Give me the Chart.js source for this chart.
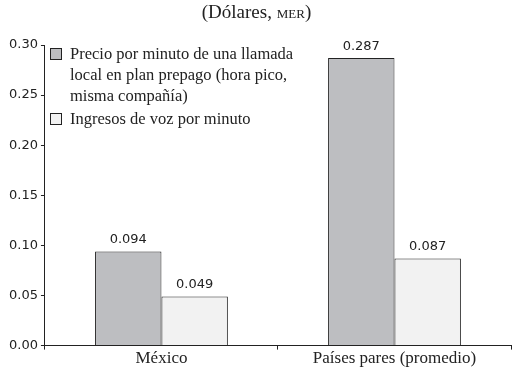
<!DOCTYPE html>
<html>
<head>
<meta charset="utf-8">
<script src="https://cdn.jsdelivr.net/npm/chart.js@4/dist/chart.umd.min.js"></script>
<style>
  html, body { margin: 0; padding: 0; background: #fff; }
  #wrap { position: relative; width: 513px; height: 368px; }
  #title { position: absolute; top: 0; left: 0; width: 513px; text-align: center;
           font-family: "Liberation Serif", serif; font-size: 19px; color: #222; line-height: 24px; }
  #title span { font-variant: small-caps; }
  #legend { position: absolute; left: 50px; top: 43px; font-family: "Liberation Serif", serif;
            font-size: 16.5px; color: #222; line-height: 21px; }
  .item { position: relative; padding-left: 20px; margin-bottom: 2px; }
  .box { position: absolute; left: 0; top: 5px; width: 10px; height: 10px; border: 1px solid #222; }
</style>
</head>
<body>
<div id="wrap">
  <canvas id="chart" width="513" height="368"></canvas>
  <div id="title">(Dólares, <span>mer</span>)</div>
  <div id="legend"></div>
</div>
<script>
var categories = ['México', 'Países pares (promedio)'];
var seriesNames = [
    'Precio por minuto de una llamada local en plan prepago (hora pico, misma compañía)',
    'Ingresos de voz por minuto'
];
var legendLines = [
    ['Precio por minuto de una llamada', 'local en plan prepago (hora pico,', 'misma compañía)'],
    ['Ingresos de voz por minuto']
];
var precioPorMinuto = [0.094, 0.287];
var ingresosVoz = [0.049, 0.087];
var yTicks = [0, 0.05, 0.10, 0.15, 0.20, 0.25, 0.30];
var colors = ['#bdbec1', '#f2f2f2'];

// simple html legend with wrapped lines
var legendHtml = '';
legendLines.forEach(function(lines, i) {
    legendHtml += '<div class="item"><div class="box" style="background:' + colors[i] + '"></div>' + lines.join('<br>') + '</div>';
});
document.getElementById('legend').innerHTML = legendHtml;

var valueLabels = {
    id: 'valueLabels',
    afterDatasetsDraw: function(chart) {
        var ctx = chart.ctx;
        ctx.save();
        ctx.font = '13px "DejaVu Sans", sans-serif';
        ctx.fillStyle = '#222';
        ctx.textAlign = 'center';
        ctx.textBaseline = 'bottom';
        chart.data.datasets.forEach(function(ds, i) {
            chart.getDatasetMeta(i).data.forEach(function(bar, j) {
                ctx.fillText(ds.data[j].toFixed(3), bar.x, bar.y - 5);
            });
        });
        ctx.restore();
    }
};

var ctx = document.getElementById('chart').getContext('2d');
var myChart = new Chart(ctx, {
    type: 'bar',
    data: {
        labels: categories,
        datasets: [{
            label: seriesNames[0],
            data: precioPorMinuto,
            backgroundColor: colors[0],
            borderColor: '#222',
            borderWidth: 1
        },
        {
            label: seriesNames[1],
            data: ingresosVoz,
            backgroundColor: colors[1],
            borderColor: '#222',
            borderWidth: 1
        }]
    },
    options: {
        responsive: false,
        animation: false,
        layout: { padding: { top: 45, right: 2, left: 6, bottom: 0 } },
        datasets: { bar: { categoryPercentage: 0.57, barPercentage: 1.0 } },
        plugins: {
            legend: { display: false },
            title: { display: false },
            tooltip: { enabled: false }
        },
        scales: {
            x: {
                grid: { offset: true, drawOnChartArea: false, drawTicks: true, tickLength: 4, color: '#222' },
                border: { color: '#222', width: 1 },
                ticks: { color: '#222', font: { family: 'Liberation Serif', size: 17 }, padding: -1 }
            },
            y: {
                min: 0,
                max: 0.30,
                afterBuildTicks: function(axis) {
                    axis.ticks = yTicks.map(function(v) { return { value: v }; });
                },
                grid: { drawOnChartArea: false, drawTicks: true, tickLength: 4, color: '#222' },
                border: { color: '#222', width: 1 },
                ticks: {
                    color: '#222',
                    font: { family: 'DejaVu Sans', size: 13 },
                    padding: 3,
                    callback: function(v) { return Number(v).toFixed(2); }
                }
            }
        }
    },
    plugins: [valueLabels]
});
</script>
</body>
</html>
